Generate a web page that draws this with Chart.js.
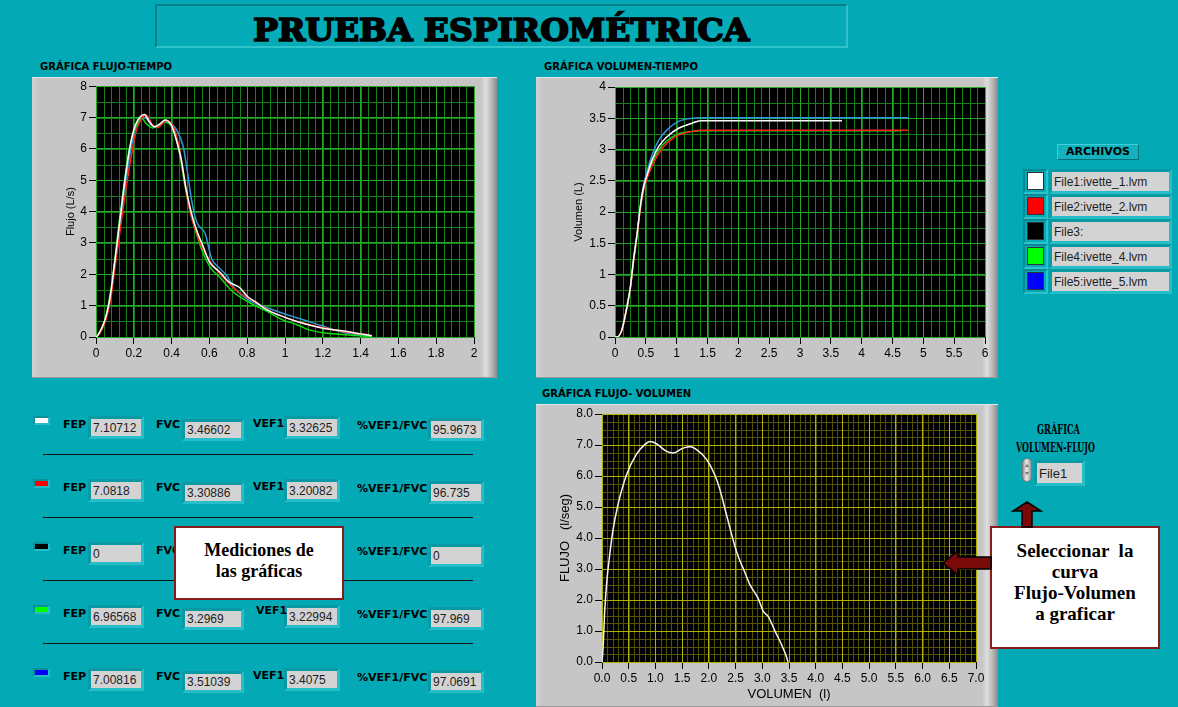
<!DOCTYPE html>
<html>
<head>
<meta charset="utf-8">
<script src="https://cdn.jsdelivr.net/npm/chart.js@4.4.1/dist/chart.umd.min.js"></script>
<style>
  html, body { margin: 0; padding: 0; }
  body { width: 1178px; height: 707px; background: #03a9b4; position: relative; overflow: hidden; font-family: "DejaVu Sans", sans-serif; }
  .abs { position: absolute; }
  .titlebox { left: 155px; top: 4px; width: 689px; height: 40px; border: 2px solid; border-color: #06808a #2fc3cc #2fc3cc #06808a; background: #05abb6; }
  .title { position: absolute; left: 0; top: 1px; width: 100%; text-align: center; font-family: "DejaVu Serif Condensed", "DejaVu Serif", serif; font-weight: bold; font-size: 31px; line-height: 46px; color: #000; white-space: nowrap; -webkit-text-stroke: 1.6px #000; }
  .title span { display: inline-block; transform-origin: center; }
  .lbl { font-family: "DejaVu Sans", sans-serif; font-weight: bold; font-size: 10px; color: #000; white-space: nowrap; }
  .bezel { background: linear-gradient(to right, #d2d2d2 0px, #c6c6c6 7px, #c6c6c6 calc(100% - 16px), #dedede calc(100% - 11px), #b4b4b4 calc(100% - 5px), #8a8a8a 100%);
           box-shadow: inset 0 1px 0 #e6e6e6, inset 0 -1px 0 #9a9a9a; }
  .bezel canvas { position: absolute; left: 0; top: 0; }
  .swatch { width: 13px; height: 5px; border: 2px solid; border-color: #0b8f98 #27bcc6 #27bcc6 #0b8f98; }
  .mlbl { font-family: "DejaVu Sans", sans-serif; font-weight: bold; font-size: 11px; color: #000; white-space: nowrap; }
  .vbox { box-sizing: border-box; border: 3px solid; border-color: #0a9aa4 #26bfc9 #26bfc9 #0a9aa4; }
  .vbox div { width: 100%; height: 100%; background: #d3d3d3; font-family: "Liberation Sans", sans-serif; font-size: 12px; color: #1e1e1e; padding-left: 2px; box-sizing: border-box; display: flex; align-items: center; white-space: nowrap; overflow: hidden; }
  .sep { height: 1px; background: #111; }
  .callout { background: #fff; border: 2px solid #8b1a1a; box-sizing: border-box; text-align: center; font-family: "Liberation Serif", serif; font-weight: bold; line-height: 21px; color: #000; white-space: pre; z-index: 5; }
  .archbtn { left: 1057px; top: 144px; width: 82px; height: 16px; box-sizing: border-box; border: 1px solid; border-color: #3fd0d8 #05707a #05707a #3fd0d8; background: #12b3be; text-align: center; font-weight: bold; font-size: 11px; line-height: 14px; }
  .legsw { width: 17px; height: 18px; box-sizing: border-box; border: 1px solid #333; }
  .legframe { box-sizing: border-box; border: 2px solid; border-color: #078a93 #2cc3cc #2cc3cc #078a93; }
  .vlabel { font-family: "DejaVu Serif", serif; font-weight: bold; font-size: 13px; color: #000; white-space: nowrap; transform-origin: left center; }
</style>
</head>
<body>

<div class="abs titlebox"><div class="title"><span id="titleText">PRUEBA ESPIROMÉTRICA</span></div></div>

<div class="abs lbl" style="left:40px; top:61px;">GRÁFICA FLUJO-TIEMPO</div>
<div class="abs lbl" style="left:544px; top:61px;">GRÁFICA VOLUMEN-TIEMPO</div>
<div class="abs lbl" style="left:542px; top:388px;">GRÁFICA FLUJO- VOLUMEN</div>

<div class="abs bezel" style="left:32px; top:77px; width:465px; height:301px;"><canvas id="ftChart" width="465" height="301"></canvas></div>
<div class="abs bezel" style="left:536px; top:77px; width:462px; height:301px;"><canvas id="vtChart" width="462" height="301"></canvas></div>
<div class="abs bezel" style="left:536px; top:404px; width:462px; height:303px;"><canvas id="fvChart" width="462" height="303"></canvas></div>

<div class="abs archbtn">ARCHIVOS</div>
<div id="legend"></div>

<div class="abs vlabel" id="vl1" style="left:1037px; top:422px;">GRÁFICA</div>
<div class="abs vlabel" id="vl2" style="left:1016px; top:440px;">VOLUMEN-FLUJO</div>
<div class="abs" style="left:1022px; top:458px; width:10px; height:24px; border-radius:5px; background:linear-gradient(to right,#9a9a9a,#e8e8e8 45%,#9a9a9a); box-sizing:border-box; border:1px solid #7a7a7a;">
  <div style="position:absolute; left:2px; top:5px; width:0; height:0; border-left:2px solid transparent; border-right:2px solid transparent; border-bottom:3px solid #777;"></div>
  <div style="position:absolute; left:2px; top:13px; width:0; height:0; border-left:2px solid transparent; border-right:2px solid transparent; border-top:3px solid #777;"></div>
</div>
<div class="abs vbox" style="left:1034px; top:460px; width:51px; height:26px;"><div style="font-size:13px;">File1</div></div>

<div id="meas"></div>

<div class="abs callout" style="left:174px; top:526px; width:170px; height:74px; padding-top:12px; font-size:18px;">Mediciones de
las gráficas</div>
<div class="abs callout" style="left:990px; top:526px; width:170px; height:123px; padding-top:12px; font-size:19px;">Seleccionar  la
curva
Flujo-Volumen
a graficar</div>

<svg class="abs" style="left:0; top:0; z-index:6;" width="1178" height="707">
  <polygon points="1027,502 1041,511 1032,511 1032,527 1022,527 1022,511 1013,511" fill="#7a0a0a" stroke="#000" stroke-width="1.5"/>
  <polygon points="943,563 958,551 958,557 991,557 991,569 958,569 958,575" fill="#7a0a0a" stroke="#000" stroke-width="1.5"/>
</svg>

<script>
// ---- flujo-tiempo (t en s, flujo en L/s)
const tFile1 = [0, 0.01, 0.044, 0.065, 0.079, 0.092, 0.106, 0.132, 0.159, 0.185, 0.208, 0.233, 0.256, 0.282, 0.309, 0.335, 0.365, 0.397, 0.423, 0.45, 0.476, 0.503, 0.529, 0.564, 0.6, 0.653, 0.705, 0.76, 0.8, 0.85, 0.9, 0.99, 1.08, 1.2, 1.31, 1.4, 1.46];
const fFile1 = [0, 0.06, 0.49, 0.96, 1.45, 2.05, 2.72, 4.0, 5.27, 6.23, 6.76, 7.02, 7.1, 6.87, 6.71, 6.78, 6.92, 6.78, 6.33, 5.7, 4.74, 4.0, 3.46, 2.93, 2.4, 2.08, 1.75, 1.58, 1.3, 1.1, 0.88, 0.65, 0.46, 0.28, 0.19, 0.1, 0.04];
const tFile2 = [0, 0.02, 0.05, 0.08, 0.1, 0.132, 0.159, 0.185, 0.212, 0.247, 0.265, 0.3, 0.326, 0.37, 0.414, 0.441, 0.467, 0.494, 0.529, 0.564, 0.617, 0.67, 0.74, 0.83, 0.93, 1.06, 1.2, 1.31, 1.45];
const fFile2 = [0, 0.12, 0.5, 1.3, 2.2, 3.6, 4.74, 5.7, 6.55, 7.02, 7.08, 6.76, 6.69, 6.89, 6.65, 6.01, 5.06, 4.1, 3.36, 2.83, 2.3, 1.92, 1.5, 1.15, 0.8, 0.5, 0.3, 0.17, 0.06];
const tFile4 = [0, 0.02, 0.05, 0.08, 0.1, 0.123, 0.15, 0.176, 0.203, 0.229, 0.245, 0.265, 0.3, 0.362, 0.406, 0.441, 0.467, 0.503, 0.529, 0.564, 0.608, 0.653, 0.723, 0.811, 0.917, 0.99, 1.06, 1.13, 1.34, 1.46];
const fFile4 = [0, 0.15, 0.6, 1.55, 2.5, 3.68, 4.95, 6.0, 6.6, 6.9, 6.96, 6.81, 6.67, 6.86, 6.65, 5.9, 4.95, 3.89, 3.36, 2.72, 2.19, 1.92, 1.45, 1.1, 0.78, 0.54, 0.4, 0.22, 0.06, 0.01];
const tFile5 = [0, 0.02, 0.05, 0.08, 0.1, 0.132, 0.159, 0.185, 0.212, 0.247, 0.265, 0.3, 0.33, 0.365, 0.427, 0.462, 0.48, 0.506, 0.533, 0.577, 0.612, 0.647, 0.691, 0.727, 0.797, 0.917, 1.058, 1.2, 1.31, 1.45];
const fFile5 = [0, 0.13, 0.55, 1.4, 2.4, 3.8, 5.0, 6.0, 6.7, 7.0, 6.98, 6.72, 6.7, 6.88, 6.6, 6.06, 5.42, 4.36, 3.67, 3.3, 2.5, 2.23, 1.97, 1.6, 1.22, 0.91, 0.62, 0.35, 0.14, 0.04];

// ---- volumen-tiempo (t en s, volumen en L)
const tvFile1 = [0, 0.03, 0.11, 0.195, 0.25, 0.3, 0.36, 0.41, 0.46, 0.52, 0.6, 0.71, 0.84, 1.03, 1.25, 1.38, 3.68];
const vFile1 = [0, 0, 0.11, 0.49, 0.8, 1.23, 1.66, 2.08, 2.38, 2.59, 2.83, 3.05, 3.2, 3.34, 3.42, 3.46, 3.46];
const tvFile2 = [0, 0.03, 0.11, 0.195, 0.25, 0.3, 0.36, 0.41, 0.46, 0.52, 0.6, 0.71, 0.84, 1.03, 1.25, 1.38, 4.76];
const vFile2 = [0, 0, 0.1, 0.47, 0.78, 1.2, 1.63, 2.04, 2.33, 2.54, 2.73, 2.94, 3.1, 3.23, 3.29, 3.31, 3.31];
const tvFile4 = [0, 0.03, 0.11, 0.195, 0.25, 0.3, 0.36, 0.41, 0.46, 0.52, 0.6, 0.71, 0.84, 1.03, 1.25, 1.38, 4.65];
const vFile4 = [0, 0, 0.11, 0.49, 0.8, 1.22, 1.65, 2.06, 2.36, 2.56, 2.78, 2.99, 3.14, 3.25, 3.29, 3.3, 3.3];
const tvFile5 = [0, 0.03, 0.11, 0.195, 0.25, 0.3, 0.36, 0.41, 0.46, 0.52, 0.6, 0.71, 0.84, 1.03, 1.25, 1.38, 4.76];
const vFile5 = [0, 0, 0.11, 0.49, 0.8, 1.23, 1.67, 2.1, 2.42, 2.65, 2.91, 3.15, 3.31, 3.45, 3.5, 3.51, 3.51];

// ---- flujo-volumen File1
const volFV = [0, 0.02, 0.05, 0.09, 0.13, 0.2, 0.3, 0.46, 0.64, 0.8, 0.9, 1.02, 1.2, 1.33, 1.52, 1.66, 1.77, 1.96, 2.11, 2.2, 2.33, 2.46, 2.55, 2.64, 2.77, 2.92, 3.02, 3.11, 3.24, 3.36, 3.46, 3.48];
const flowFV = [0, 0.45, 1.63, 2.6, 3.25, 4.2, 5.08, 6.04, 6.69, 7.01, 7.11, 7.04, 6.8, 6.74, 6.9, 6.94, 6.85, 6.53, 6.04, 5.6, 4.75, 3.9, 3.4, 3.03, 2.49, 2.06, 1.63, 1.47, 0.99, 0.56, 0.13, 0];

// ---- archivos y mediciones
const fileNames = ['File1:ivette_1.lvm', 'File2:ivette_2.lvm', 'File3:', 'File4:ivette_4.lvm', 'File5:ivette_5.lvm'];
const fileColors = ['#ffffff', '#ff0000', '#000000', '#00ff00', '#0000ff'];
const lineColors = ['#ffffff', '#ff2020', '#000000', '#10e010', '#2f97d6'];
const fepVals = ['7.10712', '7.0818', '0', '6.96568', '7.00816'];
const fvcVals = ['3.46602', '3.30886', '', '3.2969', '3.51039'];
const vef1Vals = ['3.32625', '3.20082', '', '3.22994', '3.4075'];
const ratioVals = ['95.9673', '96.735', '0', '97.969', '97.0691'];

// título ajustado al ancho de la caja
const tt = document.getElementById('titleText');
tt.style.transform = 'scaleX(' + (496 / tt.getBoundingClientRect().width) + ')';
['vl1', 'vl2'].forEach((id, i) => {
  const el = document.getElementById(id);
  const target = i === 0 ? 43 : 79;
  el.style.transform = 'scaleX(' + (target / el.getBoundingClientRect().width) + ')';
});

// leyenda ARCHIVOS
let lg = '';
fileNames.forEach((n, i) => {
  const y = 172 + 25 * i;
  lg += `<div class="abs legframe" style="left:1023px; top:${y - 3}px; width:25px; height:25px;"></div>`;
  lg += `<div class="abs legsw" style="left:1027px; top:${y}px; background:${fileColors[i]};"></div>`;
  lg += `<div class="abs vbox" style="left:1049px; top:${y - 3}px; width:123px; height:25px;"><div>${n}</div></div>`;
});
document.getElementById('legend').innerHTML = lg;

// mediciones
let ms = '';
fepVals.forEach((v, i) => {
  const y = 416 + 63 * i;
  ms += `<div class="abs swatch" style="left:33px; top:${y}px; background:${fileColors[i]};"></div>`;
  ms += `<div class="abs vbox" style="left:88px; top:${y}px; width:56px; height:23px;"><div>${v}</div></div>`;
  ms += `<div class="abs vbox" style="left:182px; top:${y + 3}px; width:62px; height:22px;"><div>${fvcVals[i]}</div></div>`;
  ms += `<div class="abs vbox" style="left:284px; top:${y}px; width:56px; height:23px;"><div>${vef1Vals[i]}</div></div>`;
  ms += `<div class="abs vbox" style="left:428px; top:${y + 2}px; width:56px; height:23px;"><div>${ratioVals[i]}</div></div>`;
  ms += `<div class="abs mlbl" style="left:63px; top:${y + 2}px;">FEP</div>`;
  ms += `<div class="abs mlbl" style="left:156px; top:${y + 2}px;">FVC</div>`;
  ms += `<div class="abs mlbl" style="left:${i === 3 ? 256 : 253}px; top:${y + (i === 3 ? -1 : 1)}px;">VEF1</div>`;
  ms += `<div class="abs mlbl" style="left:357px; top:${y + 3}px;">%VEF1/FVC</div>`;
  if (i < 4) ms += `<div class="abs sep" style="left:43px; top:${y + 38}px; width:430px;"></div>`;
});
document.getElementById('meas').innerHTML = ms;

// ---- gráficas
Chart.defaults.font.family = '"Liberation Sans", sans-serif';
Chart.defaults.color = '#000';

// fondo negro del área de trazado + rejilla menor (debajo de la rejilla mayor de Chart.js)
function plotBg(minorColor, xMinor, yMinor) {
  return {
    id: 'plotBg',
    beforeDraw(chart) {
      const { ctx, chartArea: a, scales } = chart;
      const xs = scales.x, ys = scales.y;
      ctx.save();
      ctx.fillStyle = '#000';
      ctx.fillRect(a.left, a.top, a.right - a.left, a.bottom - a.top);
      ctx.strokeStyle = minorColor;
      ctx.lineWidth = 1;
      ctx.beginPath();
      const nx = Math.round((xs.max - xs.min) / xMinor);
      for (let k = 1; k < nx; k++) {
        const px = Math.round(xs.getPixelForValue(xs.min + k * xMinor)) + 0.5;
        ctx.moveTo(px, a.top);
        ctx.lineTo(px, a.bottom);
      }
      const ny = Math.round((ys.max - ys.min) / yMinor);
      for (let k = 1; k < ny; k++) {
        const py = Math.round(ys.getPixelForValue(ys.min + k * yMinor)) + 0.5;
        ctx.moveTo(a.left, py);
        ctx.lineTo(a.right, py);
      }
      ctx.stroke();
      ctx.restore();
    }
  };
}

function axis(o) {
  return {
    type: 'linear',
    position: o.pos,
    min: o.min,
    max: o.max,
    afterFit: s => { if (o.pos === 'left') s.width = o.size; else s.height = o.size; },
    afterBuildTicks: s => {
      const n = Math.round((o.max - o.min) / o.major);
      s.ticks = [];
      for (let k = 0; k <= n; k++) s.ticks.push({ value: +(o.min + k * o.major).toFixed(6) });
    },
    border: { display: false },
    grid: { color: o.gMajor, tickColor: '#000', tickLength: 7, lineWidth: 1 },
    ticks: {
      autoSkip: false,
      maxRotation: 0,
      minRotation: 0,
      padding: 2,
      color: '#000',
      font: { size: 12 },
      callback: v => o.fmt(v)
    },
    title: o.title ? { display: true, text: o.title, color: '#000', font: { size: o.tsize || 11 }, padding: o.tpad } : { display: false }
  };
}

function series(xs, ys, color) {
  return {
    data: xs.map((x, i) => ({ x: x, y: ys[i] })),
    borderColor: color,
    borderWidth: 1.5,
    pointRadius: 0,
    showLine: true,
    fill: false,
    cubicInterpolationMode: 'monotone'
  };
}

const plain = v => String(+v.toFixed(3));
const oneDec = v => v.toFixed(1);
const greenMajor = '#28aa28', greenMinor = '#18801a';
const yelMajor = '#b0b000', yelMinor = '#545400';

function makeChart(id, datasets, xo, yo, pad, minorColor) {
  return new Chart(document.getElementById(id), {
    type: 'scatter',
    data: { datasets: datasets },
    options: {
      responsive: false,
      animation: false,
      devicePixelRatio: 1,
      layout: { padding: pad },
      plugins: { legend: { display: false }, tooltip: { enabled: false } },
      scales: { x: axis(xo), y: axis(yo) }
    },
    plugins: [plotBg(minorColor, xo.minor, yo.minor)]
  });
}

makeChart('ftChart', [
  series(tFile1, fFile1, lineColors[0]),
  series(tFile2, fFile2, lineColors[1]),
  series(tFile4, fFile4, lineColors[3]),
  series(tFile5, fFile5, lineColors[4])
],
  { pos: 'bottom', min: 0, max: 2, major: 0.2, minor: 0.04, size: 41, fmt: plain, gMajor: greenMajor },
  { pos: 'left', min: 0, max: 8, major: 1, minor: 0.5, size: 64, fmt: plain, gMajor: greenMajor, title: 'Flujo (L/s)', tpad: { top: 32, bottom: 0 } },
  { top: 9, right: 23, left: 0, bottom: 0 }, greenMinor);

makeChart('vtChart', [
  series(tvFile1, vFile1, lineColors[0]),
  series(tvFile2, vFile2, lineColors[1]),
  series(tvFile4, vFile4, lineColors[3]),
  series(tvFile5, vFile5, lineColors[4])
],
  { pos: 'bottom', min: 0, max: 6, major: 0.5, minor: 0.125, size: 41, fmt: plain, gMajor: greenMajor },
  { pos: 'left', min: 0, max: 4, major: 0.5, minor: 0.25, size: 79, fmt: plain, gMajor: greenMajor, title: 'Volumen (L)', tpad: { top: 36, bottom: 0 } },
  { top: 10, right: 13, left: 0, bottom: 0 }, greenMinor);

makeChart('fvChart', [
  series(volFV, flowFV, '#f4f4f4')
],
  { pos: 'bottom', min: 0, max: 7, major: 0.5, minor: 0.1, size: 45, fmt: oneDec, gMajor: yelMajor, title: 'VOLUMEN  (l)', tsize: 13, tpad: { top: 0, bottom: 5 } },
  { pos: 'left', min: 0, max: 8, major: 1, minor: 0.25, size: 66, fmt: oneDec, gMajor: yelMajor, title: 'FLUJO   (l/seg)', tsize: 13, tpad: { top: 22, bottom: 0 } },
  { top: 10, right: 22, left: 0, bottom: 0 }, yelMinor);
</script>
</body>
</html>
